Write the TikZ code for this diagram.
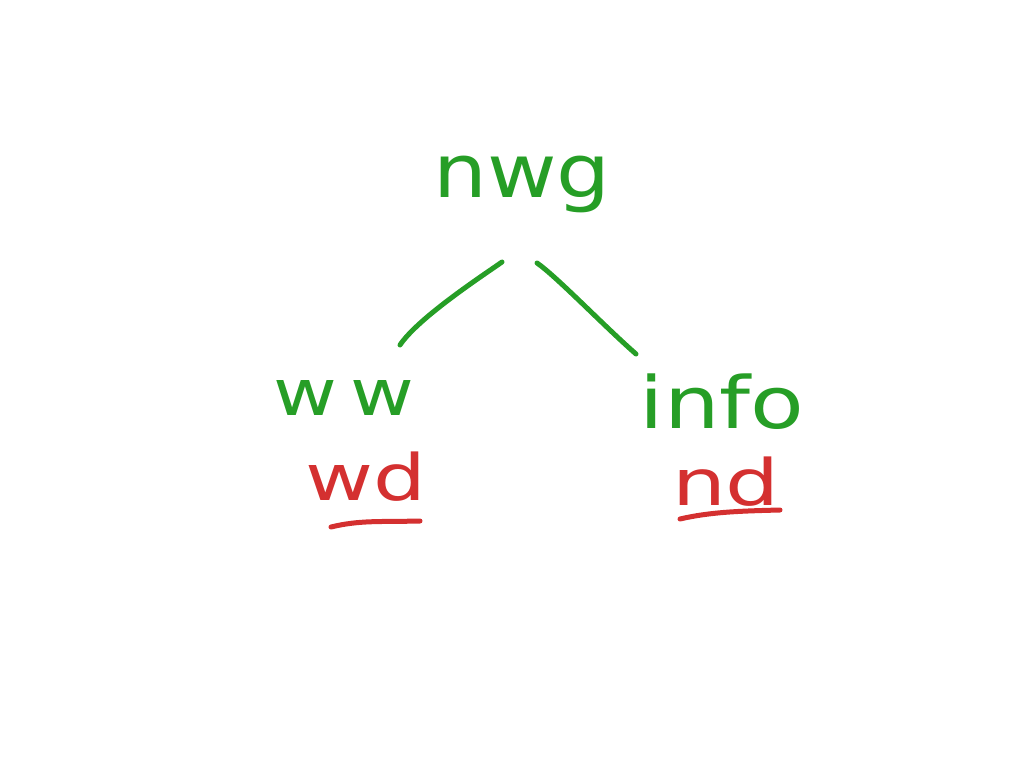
\documentclass[tikz,border=0pt]{standalone}
\usepackage{fontspec}
\setmainfont{DejaVu Sans}
\definecolor{penGreen}{RGB}{38,158,38}
\definecolor{penRed}{RGB}{212,48,48}
\tikzset{
  greenword/.style={text=penGreen, inner sep=0pt, anchor=base},
  redword/.style={text=penRed, inner sep=0pt, anchor=base},
  stroke/.style={line width=5pt, line cap=round, line join=round},
}
\begin{document}
\begin{tikzpicture}[x=1pt,y=-1pt]
\useasboundingbox[fill=white] (0,0) rectangle (1024,768);
% words
\node[greenword] (nwg) at (522,197) {\scalebox{1.15}[1]{\fontsize{74}{74}\selectfont nwg}};
\node[greenword] (ww) at (344,415) {\scalebox{1.22}[1]{\fontsize{64}{64}\selectfont w\,w}};
\node[greenword] (info) at (722,428) {\scalebox{1.22}[1]{\fontsize{72}{72}\selectfont info}};
\node[redword] (wd) at (366,500) {\scalebox{1.3}[1]{\fontsize{64}{64}\selectfont wd}};
\node[redword] (nd) at (726,505) {\scalebox{1.33}[1]{\fontsize{64}{64}\selectfont nd}};
% connector end points
\coordinate (lA) at (502,262);
\coordinate (lB) at (400,345);
\coordinate (rA) at (537,263);
\coordinate (rB) at (636,354);
\draw[stroke, penGreen] (lA) .. controls (482,276) and (418,318) .. (lB);
\draw[stroke, penGreen] (rA) .. controls (556,276) and (604,326) .. (rB);
% underlines
\coordinate (wdL) at (331,527);
\coordinate (wdR) at (420,521);
\coordinate (ndL) at (680,519);
\coordinate (ndR) at (780,510);
\draw[stroke, penRed] (wdL) .. controls (360,520) and (380,522) .. (wdR);
\draw[stroke, penRed] (ndL) .. controls (710,512) and (740,511) .. (ndR);
\end{tikzpicture}
\end{document}
